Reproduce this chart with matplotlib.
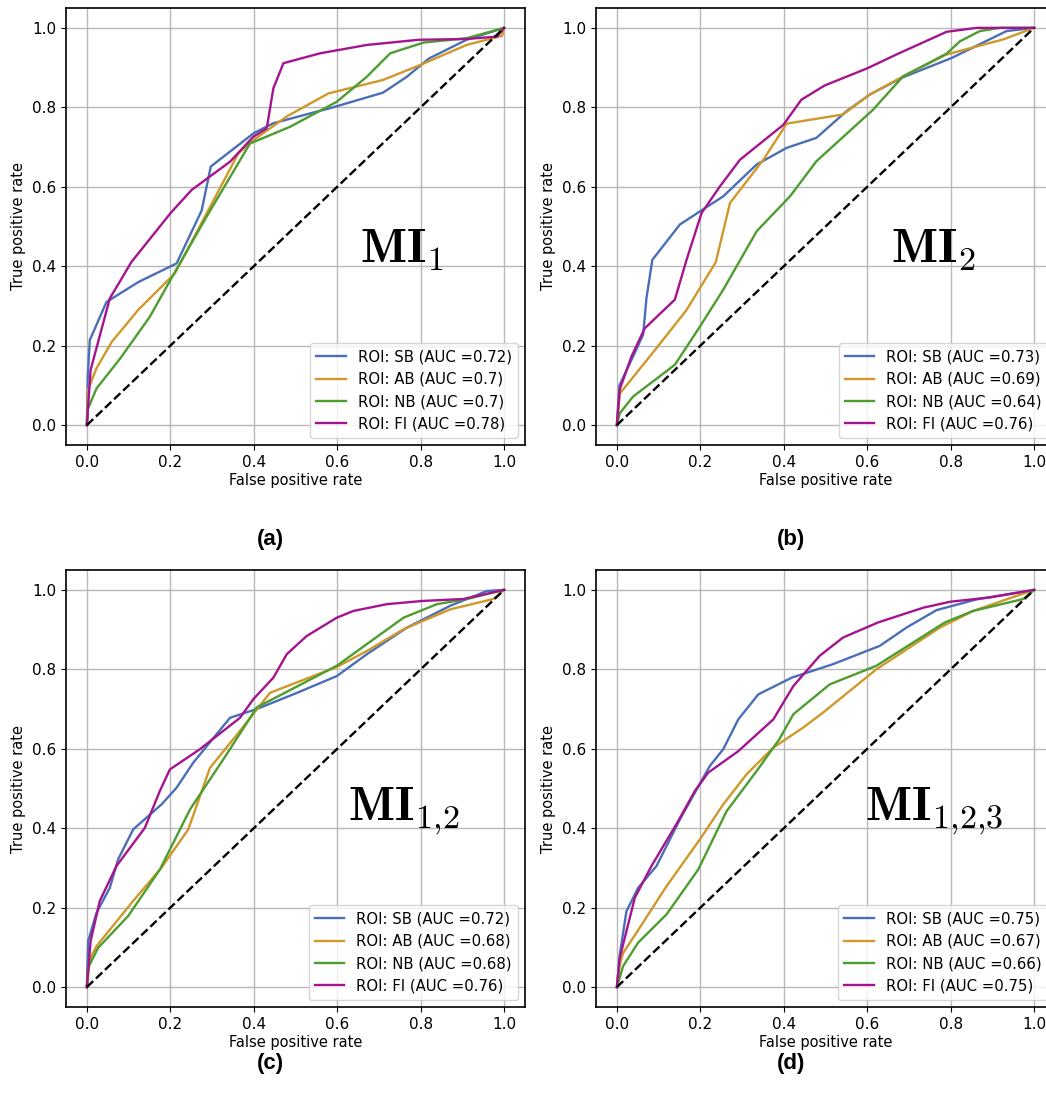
import matplotlib
matplotlib.use('Agg')
import matplotlib.pyplot as plt
import numpy as np

plt.rcParams['mathtext.fontset'] = 'cm'
plt.rcParams['font.size'] = 10.5

# ROC curves, one (fpr, tpr) pair per curve
# (a) MI_1
a_sb_x = [0, 0.002, 0.007, 0.047, 0.123, 0.215, 0.275, 0.297, 0.4, 0.447, 0.59, 0.71, 0.767, 0.82, 0.91, 1.0]
a_sb_y = [0, 0.12, 0.214, 0.31, 0.36, 0.407, 0.54, 0.651, 0.735, 0.76, 0.80, 0.837, 0.877, 0.923, 0.97, 1.0]
a_ab_x = [0, 0.003, 0.023, 0.06, 0.123, 0.211, 0.363, 0.4, 0.479, 0.579, 0.71, 0.8, 0.91, 0.995, 1.0]
a_ab_y = [0, 0.09, 0.143, 0.21, 0.29, 0.382, 0.684, 0.718, 0.777, 0.835, 0.869, 0.907, 0.957, 0.98, 1.0]
a_nb_x = [0, 0.002, 0.023, 0.08, 0.151, 0.2, 0.287, 0.391, 0.487, 0.599, 0.671, 0.727, 0.807, 0.91, 1.0]
a_nb_y = [0, 0.04, 0.092, 0.168, 0.273, 0.365, 0.525, 0.709, 0.751, 0.814, 0.877, 0.936, 0.963, 0.974, 1.0]
a_fi_x = [0, 0.009, 0.055, 0.107, 0.2, 0.251, 0.343, 0.399, 0.431, 0.447, 0.471, 0.559, 0.671, 0.795, 0.91, 0.983, 1.0]
a_fi_y = [0, 0.139, 0.319, 0.411, 0.533, 0.592, 0.663, 0.726, 0.747, 0.848, 0.911, 0.936, 0.957, 0.97, 0.972, 0.978, 1.0]

# (b) MI_2
b_sb_x = [0, 0.006, 0.039, 0.063, 0.071, 0.085, 0.151, 0.199, 0.255, 0.335, 0.407, 0.478, 0.55, 0.606, 0.682, 0.802, 0.934, 1.0]
b_sb_y = [0, 0.10, 0.173, 0.228, 0.32, 0.416, 0.505, 0.538, 0.576, 0.656, 0.698, 0.723, 0.79, 0.832, 0.874, 0.924, 0.992, 1.0]
b_ab_x = [0, 0.007, 0.023, 0.095, 0.167, 0.237, 0.271, 0.351, 0.407, 0.542, 0.606, 0.686, 0.79, 0.926, 1.0]
b_ab_y = [0, 0.08, 0.10, 0.194, 0.29, 0.41, 0.559, 0.668, 0.759, 0.782, 0.832, 0.878, 0.933, 0.971, 1.0]
b_nb_x = [0, 0.007, 0.039, 0.139, 0.199, 0.255, 0.335, 0.415, 0.478, 0.614, 0.686, 0.79, 0.822, 0.87, 0.918, 1.0]
b_nb_y = [0, 0.03, 0.072, 0.152, 0.248, 0.341, 0.488, 0.576, 0.664, 0.794, 0.878, 0.935, 0.966, 0.992, 1.0, 1.0]
b_fi_x = [0, 0.007, 0.035, 0.067, 0.139, 0.167, 0.203, 0.247, 0.295, 0.399, 0.442, 0.498, 0.602, 0.67, 0.79, 0.862, 1.0]
b_fi_y = [0, 0.09, 0.173, 0.244, 0.316, 0.416, 0.534, 0.601, 0.668, 0.756, 0.819, 0.855, 0.899, 0.933, 0.99, 1.0, 1.0]

# (c) MI_1,2
c_sb_x = [0, 0.003, 0.023, 0.055, 0.075, 0.111, 0.179, 0.215, 0.255, 0.343, 0.407, 0.495, 0.599, 0.671, 0.767, 0.871, 0.958, 1.0]
c_sb_y = [0, 0.116, 0.187, 0.25, 0.322, 0.397, 0.46, 0.502, 0.565, 0.678, 0.70, 0.737, 0.783, 0.838, 0.905, 0.96, 0.997, 1.0]
c_ab_x = [0, 0.007, 0.023, 0.111, 0.179, 0.243, 0.295, 0.367, 0.439, 0.599, 0.671, 0.759, 0.871, 0.974, 1.0]
c_ab_y = [0, 0.07, 0.103, 0.217, 0.301, 0.397, 0.552, 0.645, 0.741, 0.806, 0.846, 0.901, 0.951, 0.977, 1.0]
c_nb_x = [0, 0.003, 0.027, 0.099, 0.175, 0.247, 0.335, 0.407, 0.599, 0.759, 0.839, 0.911, 1.0]
c_nb_y = [0, 0.049, 0.099, 0.179, 0.296, 0.447, 0.586, 0.704, 0.809, 0.93, 0.964, 0.977, 1.0]
c_fi_x = [0, 0.009, 0.031, 0.071, 0.139, 0.175, 0.199, 0.271, 0.367, 0.399, 0.447, 0.479, 0.527, 0.599, 0.639, 0.719, 0.803, 0.902, 1.0]
c_fi_y = [0, 0.116, 0.217, 0.305, 0.401, 0.494, 0.548, 0.599, 0.678, 0.725, 0.779, 0.838, 0.884, 0.93, 0.947, 0.964, 0.972, 0.977, 1.0]

# (d) MI_1,2,3
d_sb_x = [0, 0.007, 0.023, 0.051, 0.095, 0.151, 0.223, 0.255, 0.291, 0.339, 0.419, 0.518, 0.63, 0.694, 0.766, 0.862, 1.0]
d_sb_y = [0, 0.082, 0.191, 0.25, 0.305, 0.422, 0.557, 0.599, 0.674, 0.737, 0.779, 0.813, 0.859, 0.905, 0.949, 0.976, 1.0]
d_ab_x = [0, 0.007, 0.015, 0.047, 0.119, 0.199, 0.255, 0.311, 0.375, 0.446, 0.494, 0.622, 0.774, 0.854, 1.0]
d_ab_y = [0, 0.057, 0.086, 0.137, 0.254, 0.372, 0.46, 0.536, 0.603, 0.653, 0.691, 0.80, 0.905, 0.947, 1.0]
d_nb_x = [0, 0.015, 0.051, 0.119, 0.195, 0.263, 0.335, 0.39, 0.423, 0.51, 0.622, 0.786, 0.854, 0.974, 1.0]
d_nb_y = [0, 0.053, 0.112, 0.183, 0.296, 0.443, 0.544, 0.625, 0.687, 0.762, 0.809, 0.918, 0.947, 0.977, 1.0]
d_fi_x = [0, 0.007, 0.043, 0.083, 0.147, 0.187, 0.219, 0.291, 0.375, 0.423, 0.486, 0.542, 0.626, 0.734, 0.798, 0.894, 1.0]
d_fi_y = [0, 0.074, 0.225, 0.305, 0.418, 0.494, 0.54, 0.594, 0.674, 0.758, 0.834, 0.88, 0.918, 0.955, 0.97, 0.981, 1.0]

roi_names = ['SB', 'AB', 'NB', 'FI']
auc_a = ['0.72', '0.7', '0.7', '0.78']
auc_b = ['0.73', '0.69', '0.64', '0.76']
auc_c = ['0.72', '0.68', '0.68', '0.76']
auc_d = ['0.75', '0.67', '0.66', '0.75']

panels = [
    ('(a)', r'$\mathbf{MI}_{1}$', auc_a,
     [(a_sb_x, a_sb_y), (a_ab_x, a_ab_y), (a_nb_x, a_nb_y), (a_fi_x, a_fi_y)]),
    ('(b)', r'$\mathbf{MI}_{2}$', auc_b,
     [(b_sb_x, b_sb_y), (b_ab_x, b_ab_y), (b_nb_x, b_nb_y), (b_fi_x, b_fi_y)]),
    ('(c)', r'$\mathbf{MI}_{1{,}2}$', auc_c,
     [(c_sb_x, c_sb_y), (c_ab_x, c_ab_y), (c_nb_x, c_nb_y), (c_fi_x, c_fi_y)]),
    ('(d)', r'$\mathbf{MI}_{1{,}2{,}3}$', auc_d,
     [(d_sb_x, d_sb_y), (d_ab_x, d_ab_y), (d_nb_x, d_nb_y), (d_fi_x, d_fi_y)]),
]

colors = ['#4a6fb8', '#d0982a', '#4d9d2f', '#a4148f']

W, H = 1046, 1114
fig = plt.figure(figsize=(W / 100, H / 100), dpi=100)

# axes boxes in pixels: left, top
boxes = [(66, 8), (596, 8), (66, 570), (596, 570)]
aw, ah = 459, 437
mi_pos = [(0.756, 0.41), (0.758, 0.41), (0.759, 0.42), (0.76, 0.42)]
lab_pos = [(270, 540), (791, 540), (270, 1064), (791, 1064)]

for i, (lab, mi, aucs, curves) in enumerate(panels):
    l, t = boxes[i]
    ax = fig.add_axes([l / W, 1 - (t + ah) / H, aw / W, ah / H])
    ax.grid(True, color='#b8b8b8', linewidth=1.0)
    ax.set_axisbelow(True)
    for j, (x, y) in enumerate(curves):
        ax.plot(x, y, color=colors[j], linewidth=1.7,
                label='ROI: %s (AUC =%s)' % (roi_names[j], aucs[j]))
    ax.plot([0, 1], [0, 1], 'k--', linewidth=1.7)
    ax.set_xlim(-0.05, 1.05)
    ax.set_ylim(-0.05, 1.05)
    ax.set_xticks(np.arange(0, 1.01, 0.2))
    ax.set_yticks(np.arange(0, 1.01, 0.2))
    ax.tick_params(labelsize=11)
    ax.set_xlabel('False positive rate', labelpad=2)
    ax.set_ylabel('True positive rate')
    ax.text(mi_pos[i][0], mi_pos[i][1], mi, fontsize=35, ha='center', va='baseline')
    ax.legend(loc='lower right', fontsize=10.7)
    for s in ax.spines.values():
        s.set_linewidth(1.2)
    fig.text(lab_pos[i][0] / W, 1 - lab_pos[i][1] / H, lab, fontsize=16,
             fontweight='bold', family='Liberation Sans', ha='center', va='center')

fig.savefig('out.png', dpi=100)
